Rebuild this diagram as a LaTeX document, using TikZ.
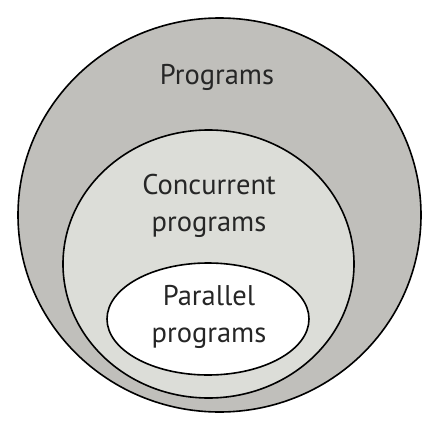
\documentclass[tikz,border=0pt]{standalone}
\usepackage{fontspec}
\setmainfont{PT Sans}
\definecolor{outergray}{RGB}{192,191,187}
\definecolor{midgray}{RGB}{220,221,216}
\tikzset{
  setline/.style={draw=black,line width=1.6pt},
  setlabel/.style={align=center,font=\fontsize{28.5}{37}\selectfont,text=black!85}
}
\begin{document}
\begin{tikzpicture}[x=1pt,y=-1pt]
\useasboundingbox (0,0) rectangle (432,439);
\coordinate (progc) at (219.5,215);
\coordinate (concc) at (208.5,264);
\coordinate (parc) at (208,319);
% nested sets
\draw[setline,fill=outergray] (progc) ellipse [x radius=201.5,y radius=197];
\draw[setline,fill=midgray] (concc) ellipse [x radius=145.5,y radius=134];
\draw[setline,fill=white] (parc) ellipse [x radius=101,y radius=56];
% labels
\node[setlabel] (prog) at (217,77) {Programs};
\node[setlabel] (conc) at (209,206) {Concurrent\\programs};
\node[setlabel] (par) at (209,317) {Parallel\\programs};
\end{tikzpicture}
\end{document}
